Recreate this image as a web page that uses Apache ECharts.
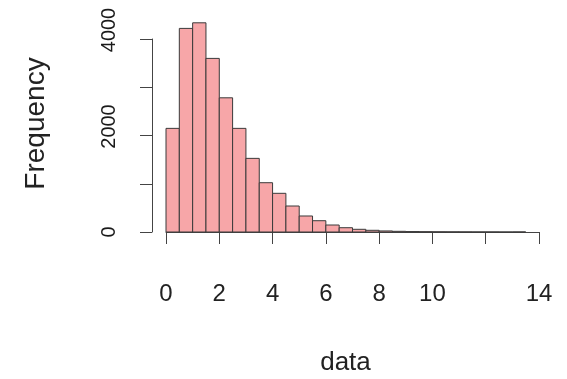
<!DOCTYPE html>
<html><head><meta charset="utf-8">
<script src="https://cdn.jsdelivr.net/npm/echarts@6/dist/echarts.min.js"></script>
<style>html,body{margin:0;padding:0;background:#fff}#c{width:567px;height:379px}</style>
</head><body><div id="c"></div>
<script>
const binStarts = [0,0.5,1,1.5,2,2.5,3,3.5,4,4.5,5,5.5,6,6.5,7,7.5,8,8.5,9,9.5,10,10.5,11,11.5,12,12.5,13];
const binEnds   = [0.5,1,1.5,2,2.5,3,3.5,4,4.5,5,5.5,6,6.5,7,7.5,8,8.5,9,9.5,10,10.5,11,11.5,12,12.5,13,13.5];
const counts    = [2149,4222,4338,3600,2783,2149,1527,1022,802,539,332,234,145,89,56,35,22,14,9,6,4,3,2,1,1,0,1];
const xTickLabels = {0:'0',2:'2',4:'4',6:'6',8:'8',10:'10',12:'',14:'14'};
const yTickLabels = {0:'0',1000:'',2000:'2000',3000:'',4000:'4000'};
const xTitle = 'data';
const yTitle = 'Frequency';

const FONT = '"Liberation Sans", Arial, sans-serif';
const chart = echarts.init(document.getElementById('c'), null, {renderer:'canvas'});
chart.setOption({
  animation:false,
  backgroundColor:'#ffffff',
  grid:[
    {left:166, right:28, top:15, bottom:147, outerBoundsMode:'none', containLabel:false},
    {left:152, width:1, top:39, bottom:147, outerBoundsMode:'none', containLabel:false}
  ],
  xAxis:[
    {gridIndex:0, type:'value', min:0, max:14, interval:2, offset:12,
     axisLine:{show:true, lineStyle:{color:'#444', width:1}},
     axisTick:{show:true, length:12, lineStyle:{color:'#444', width:1}},
     splitLine:{show:false},
     axisLabel:{formatter:v=>xTickLabels[v] ?? '', fontSize:24, color:'#222', margin:38, fontFamily:FONT, showMinLabel:true, showMaxLabel:true},
     name:xTitle, nameLocation:'middle', nameGap:106,
     nameTextStyle:{fontSize:26, color:'#222', fontFamily:FONT, padding:[0,14,0,0]}},
    {gridIndex:1, type:'value', show:false}
  ],
  yAxis:[
    {gridIndex:0, type:'value', min:0, max:4500,
     axisLine:{show:false}, axisTick:{show:false}, axisLabel:{show:false}, splitLine:{show:false},
     name:yTitle, nameLocation:'middle', nameGap:116,
     nameTextStyle:{fontSize:28, color:'#222', fontFamily:FONT}},
    {gridIndex:1, type:'value', min:0, max:4000, interval:1000,
     axisLine:{show:true, lineStyle:{color:'#444', width:1}},
     axisTick:{show:true, length:12, lineStyle:{color:'#444', width:1}},
     splitLine:{show:false},
     axisLabel:{rotate:90, margin:33, fontSize:20, color:'#1a1a1a', fontFamily:FONT,
       formatter:v=>{const t=yTickLabels[v]; if(!t) return ''; return v>0 ? '{s|'+t+'}' : t;},
       rich:{s:{fontSize:20, color:'#1a1a1a', fontFamily:FONT, padding:[0,0,0,18]}}}}
  ],
  series:[{
    type:'custom', xAxisIndex:0, yAxisIndex:0,
    data: counts.map((c,i)=>[binStarts[i], binEnds[i], c]),
    encode:{x:[0,1], y:2},
    renderItem:function(params, api){
      const p0 = api.coord([api.value(0), api.value(2)]);
      const p1 = api.coord([api.value(1), 0]);
      return {type:'rect', shape:{x:p0[0], y:p0[1], width:p1[0]-p0[0], height:p1[1]-p0[1]},
        style:{fill:'#f7a6a8', stroke:'#3a3a3a', lineWidth:1}};
    }
  }]
});
</script></body></html>
